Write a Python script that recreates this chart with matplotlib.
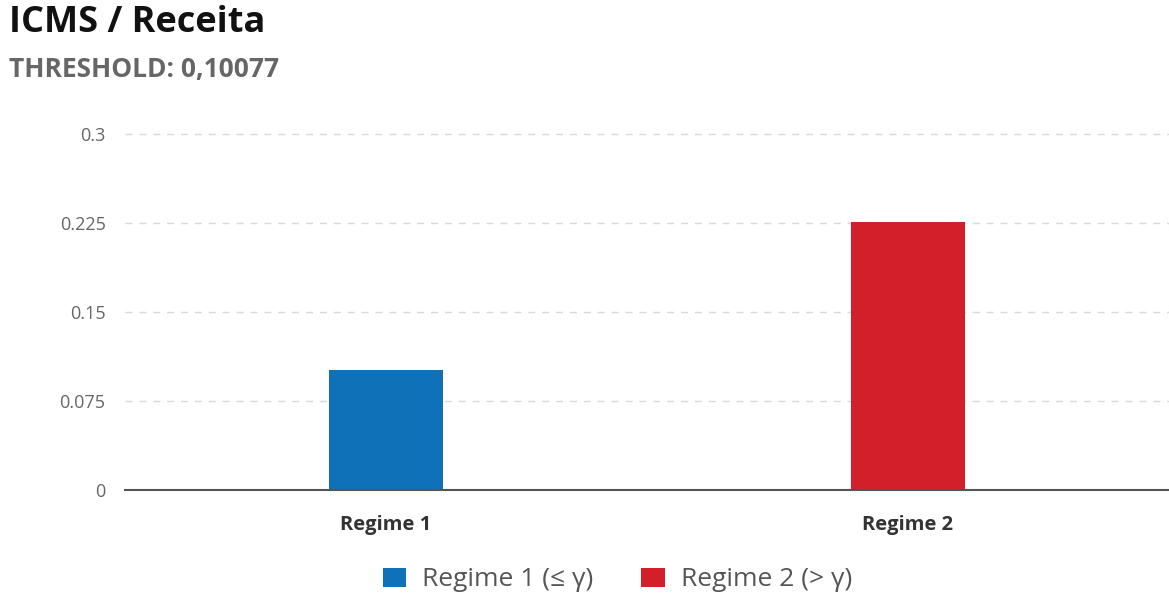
import matplotlib.pyplot as plt
from matplotlib.patches import Patch

plt.rcParams['font.family'] = ['Open Sans', 'DejaVu Sans']

regimes = ["Regime 1", "Regime 2"]
values = [0.101, 0.2255]
legend_labels = ["Regime 1 (≤ γ)", "Regime 2 (> γ)"]
colors = ["#0F71B8", "#D31F29"]
yticks = [0, 0.075, 0.15, 0.225, 0.3]
ytick_labels = ["0", "0.075", "0.15", "0.225", "0.3"]

fig = plt.figure(figsize=(11.69, 5.95), dpi=100)
ax = fig.add_axes([125 / 1169, 1 - 490 / 595, 1 - 125 / 1169, (490 - 134) / 595])

x = list(range(len(regimes)))
ax.bar(x, values, width=0.22, color=colors, zorder=3)
ax.set_xlim(-0.5, len(regimes) - 0.5)
ax.set_ylim(0, 0.3)

ax.set_yticks(yticks)
ax.set_yticklabels(ytick_labels, color="#666666", fontsize=13)
ax.set_xticks(x)
ax.set_xticklabels(regimes, fontsize=14.5, fontweight="bold", color="#333333")
ax.tick_params(axis="y", length=0, pad=14)
ax.tick_params(axis="x", length=0, pad=18)

for y in yticks[1:]:
    ax.axhline(y, color="#D9D9D9", linestyle=(0, (5, 5)), linewidth=1, zorder=1, clip_on=False)

for side in ["top", "right", "left"]:
    ax.spines[side].set_visible(False)
ax.spines["bottom"].set_color("#555555")
ax.spines["bottom"].set_linewidth(1.5)
ax.spines["bottom"].set_zorder(4)

fig.text(9 / 1169, 1 - 23 / 595, "ICMS / Receita", fontsize=26, fontweight="bold",
         color="#111111", va="center", ha="left")
fig.text(9 / 1169, 1 - 70 / 595, "THRESHOLD: 0,10077", fontsize=19, fontweight="bold",
         color="#666666", va="center", ha="left")

handles = [Patch(facecolor=c, edgecolor="none") for c in colors]
fig.legend(handles, legend_labels, loc="center", bbox_to_anchor=(0.528, 1 - 580 / 595),
           ncol=2, frameon=False, fontsize=19, labelcolor="#555555",
           handlelength=0.9, handleheight=0.7, columnspacing=1.8, handletextpad=0.6)

fig.savefig("out.png", dpi=100, facecolor="white")
